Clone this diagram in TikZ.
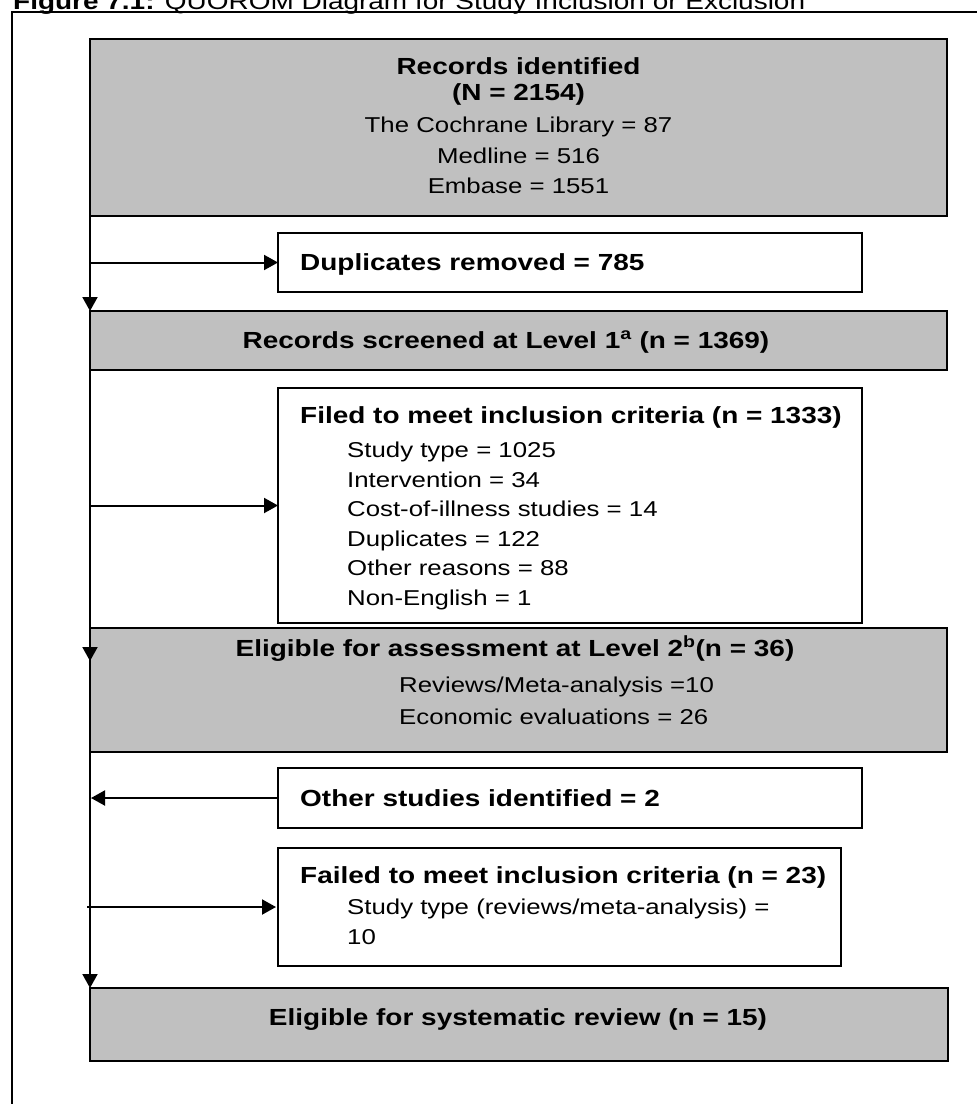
\documentclass[tikz,border=0pt]{standalone}
\usepackage{fontspec}
\setmainfont{Liberation Sans}[FakeStretch=1.2]
\usetikzlibrary{arrows.meta}
\definecolor{boxgray}{HTML}{C0C0C0}
\begin{document}
\begin{tikzpicture}[x=1pt,y=-1pt,
  graybox/.style={draw=black, line width=1.8pt, fill=boxgray, inner sep=0pt, outer sep=0pt},
  whitebox/.style={draw=black, line width=1.6pt, fill=white, inner sep=0pt, outer sep=0pt},
  flow/.style={line width=2pt, -{Triangle[length=14pt,width=15pt]}},
  spine/.style={line width=2pt},
  hd/.style={font=\fontsize{23.3}{28}\selectfont\bfseries, inner sep=0pt},
  tx/.style={font=\fontsize{21.5}{29.5}\selectfont, inner sep=0pt},
]
\useasboundingbox (0,0) rectangle (977,1104);
% outer frame (right and bottom edges fall outside the page)
\draw[line width=1.3pt] (12,1130) -- (12,12) -- (1000,12);
% title, cut at the top edge as in the source
\node[hd, anchor=base west] (title) at (13,9) {Figure 7.1:\mdseries{} QUOROM Diagram for Study Inclusion or Exclusion};

% boxes
\node[graybox, minimum width=857pt, minimum height=177pt] (b1) at (518.5,127.5) {};
\node[whitebox, minimum width=584pt, minimum height=59pt] (dup) at (570,262.5) {};
\node[graybox, minimum width=857pt, minimum height=59pt] (b2) at (518.5,340.5) {};
\node[whitebox, minimum width=584pt, minimum height=235pt] (fil) at (570,505.5) {};
\node[graybox, minimum width=857pt, minimum height=124pt] (b3) at (518.5,690) {};
\node[whitebox, minimum width=584pt, minimum height=60pt] (oth) at (570,798) {};
\node[whitebox, minimum width=563pt, minimum height=118pt] (fail) at (559.5,907) {};
\node[graybox, minimum width=858pt, minimum height=73pt] (b4) at (519,1024.5) {};

% texts
\node[hd, anchor=base] (t1a) at (518.5,74.3) {Records identified};
\node[hd, anchor=base] (t1b) at (518.5,100.3) {(N = 2154)};
\node[tx, anchor=base] (t1c) at (518.5,132.7) {The Cochrane Library = 87};
\node[tx, anchor=base] (t1d) at (518.5,163.7) {Medline = 516};
\node[tx, anchor=base] (t1e) at (518.5,193.7) {Embase = 1551};

\node[hd, anchor=base west] (tdup) at (300,270.3) {Duplicates removed = 785};

\node[hd, anchor=base] (t2) at (506,348.3) {Records screened at Level 1\textsuperscript{a} (n = 1369)};

\node[hd, anchor=base west] (tf0) at (300,423.3) {Filed to meet inclusion criteria (n = 1333)};
\node[tx, anchor=base west] (tf1) at (347,457.7) {Study type = 1025};
\node[tx, anchor=base west] (tf2) at (347,487.2) {Intervention = 34};
\node[tx, anchor=base west] (tf3) at (347,516.7) {Cost-of-illness studies = 14};
\node[tx, anchor=base west] (tf4) at (347,546.2) {Duplicates = 122};
\node[tx, anchor=base west] (tf5) at (347,575.7) {Other reasons = 88};
\node[tx, anchor=base west] (tf6) at (347,605.2) {Non-English = 1};

\node[hd, anchor=base] (t3a) at (515,656.3) {Eligible for assessment at Level 2\textsuperscript{b}(n = 36)};
\node[tx, anchor=base west] (t3b) at (399,692.7) {Reviews/Meta-analysis =10};
\node[tx, anchor=base west] (t3c) at (399,724.7) {Economic evaluations = 26};

\node[hd, anchor=base west] (toth) at (300,806.3) {Other studies identified = 2};

\node[hd, anchor=base west] (tfa0) at (300,883.3) {Failed to meet inclusion criteria (n = 23)};
\node[tx, anchor=base west] (tfa1) at (347,914.7) {Study type (reviews/meta-analysis) =};
\node[tx, anchor=base west] (tfa2) at (347,944.7) {10};

\node[hd, anchor=base] (t4) at (518,1025.3) {Eligible for systematic review (n = 15)};

% connectors
\coordinate (s3) at ([yshift=-33pt]b3.north west);
\draw[flow] (b1.south west) -- (b2.north west);
\draw[flow] (b2.south west) -- (s3);
\draw[spine] (s3) -- (b3.south west);
\draw[flow] (b3.south west) -- (b4.north west);
\draw[flow] (b1.south west |- dup.west) -- (dup.west);
\draw[flow] (b2.south west |- fil.west) -- (fil.west);
\draw[flow] (oth.west) -- ([xshift=1pt]b3.south west |- oth.west);
\coordinate (fs) at ([xshift=-3pt]b3.south west |- fail.west);
\draw[flow] (fs) -- ([xshift=-2pt]fail.west);
\end{tikzpicture}
\end{document}
